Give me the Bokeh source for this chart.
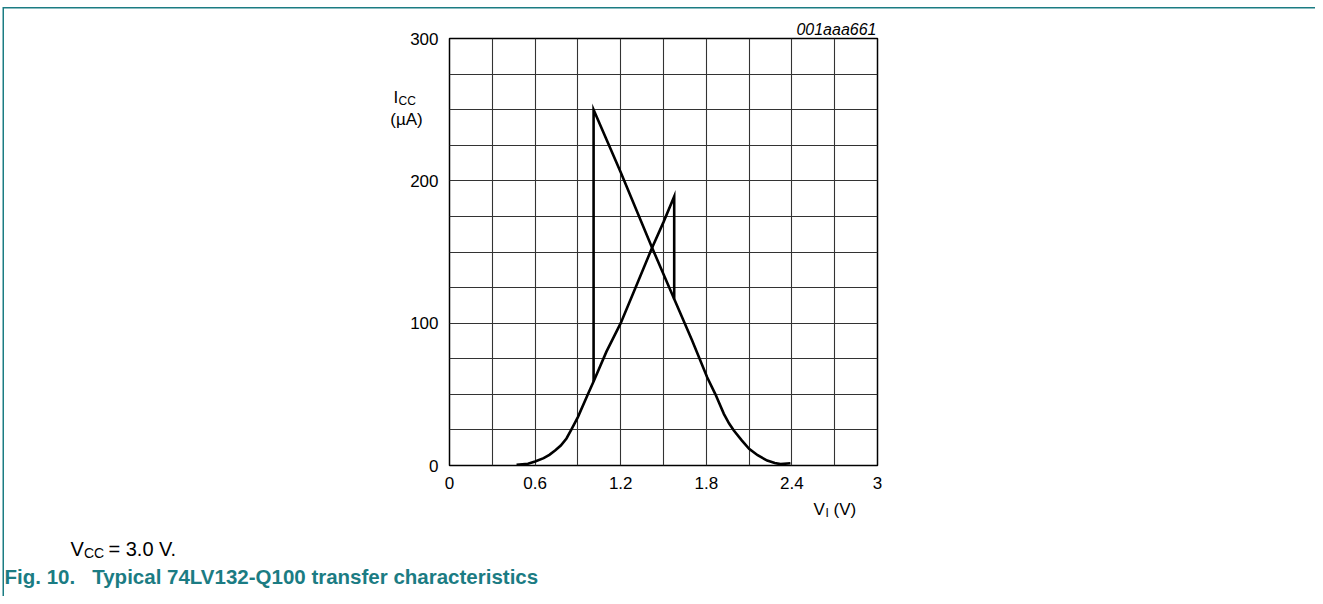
from bokeh.plotting import figure
from bokeh.models import Range1d, FixedTicker, Label, InlineStyleSheet
from bokeh.embed import file_html
from bokeh.resources import INLINE

# ---- data ----
# VI rising: bell, linear rise to the upper trip point, drop, then descending tail
v_up = [0.47, 0.55, 0.60, 0.66, 0.70, 0.74, 0.78, 0.82, 0.853, 0.90, 0.97, 1.01, 1.10, 1.20, 1.30, 1.42, 1.50, 1.575,
        1.575, 1.70, 1.806, 1.864, 1.923, 1.96, 1.993, 2.05, 2.10, 2.16, 2.227, 2.28, 2.32, 2.39]
i_up = [0.5, 1.2, 2.8, 5.2, 7.5, 10.5, 14, 19, 25, 34, 50, 59, 80, 100, 124, 153, 171, 189,
        117, 88, 62, 50, 36.3, 29.5, 24.6, 17.5, 11.7, 7.2, 3.5, 1.8, 1.0, 1.6]
# VI falling branch (distinct part): jump at lower trip point and line to the upper one
v_dn = [1.01, 1.01, 1.20, 1.42, 1.575]
i_dn = [59, 250, 206, 153, 117]

x_ticks = [0, 0.6, 1.2, 1.8, 2.4, 3]
x_tick_labels = ["0", "0.6", "1.2", "1.8", "2.4", "3"]
y_ticks = [0, 100, 200, 300]
y_tick_labels = ["0", "100", "200", "300"]
x_grid = [0, 0.3, 0.6, 0.9, 1.2, 1.5, 1.8, 2.1, 2.4, 2.7, 3.0]
y_grid = [0, 25, 50, 75, 100, 125, 150, 175, 200, 225, 250, 275, 300]

W, H = 1315, 596
FL, FR, FT, FB = 449, 877, 38, 465   # frame edges in page pixels
FONT = "Liberation Sans"
TEAL = "#1b7c83"

p = figure(width=W, height=H, x_range=Range1d(0, 3), y_range=Range1d(0, 300),
           output_backend="svg", toolbar_location=None,
           min_border_left=FL, min_border_right=W - FR, min_border_top=FT, min_border_bottom=H - FB)
p.background_fill_color = "white"
p.border_fill_color = None
p.outline_line_color = "black"
p.outline_line_width = 1.5
# document frame (thin teal rule on top and at the left), drawn as inset CSS shadows of the figure box
SHADOW = "inset 2.5px 7px 0px 0px white, inset 4px 8.5px 0px 0px " + TEAL
p.styles = {"background-color": "white", "box-shadow": SHADOW}
p.stylesheets = [InlineStyleSheet(css=":host { background-color: white; box-shadow: " + SHADOW + "; }")]

p.xaxis.ticker = FixedTicker(ticks=x_ticks)
p.xaxis.major_label_overrides = {t: s for t, s in zip(x_ticks, x_tick_labels)}
p.yaxis.ticker = FixedTicker(ticks=y_ticks)
p.yaxis.major_label_overrides = {t: s for t, s in zip(y_ticks, y_tick_labels)}
for ax in p.axis:
    ax.axis_line_color = None
    ax.major_tick_line_color = None
    ax.minor_tick_line_color = None
    ax.major_tick_out = 0
    ax.major_tick_in = 0
    ax.minor_tick_out = 0
    ax.major_label_text_font = FONT
    ax.major_label_text_font_size = "17px"
    ax.major_label_text_color = "black"
p.xaxis.major_label_standoff = 11
p.yaxis.major_label_standoff = 11

p.xgrid.ticker = FixedTicker(ticks=x_grid)
p.ygrid.ticker = FixedTicker(ticks=y_grid)
p.grid.grid_line_color = "#333333"
p.grid.grid_line_width = 1.1
p.grid.grid_line_alpha = 1

p.line(v_up, i_up, line_width=2.6, line_color="black", line_join="miter")
p.line(v_dn, i_dn, line_width=2.6, line_color="black", line_join="miter")

def dx(px):
    return (px - FL) / (FR - FL) * 3.0

def dy(py):
    return (FB - py) / (FB - FT) * 300.0

def lab(text, x, y, size, align="left", style="normal", color="black", side="left"):
    # x, y: page pixel position of the text baseline, converted to data units;
    # placed in a side panel so that it is not clipped to the plot frame
    p.add_layout(Label(x=dx(x), y=dy(y), text=text,
                       text_font=FONT, text_font_size=size, text_align=align,
                       text_baseline="alphabetic", text_font_style=style, text_color=color), side)

lab("I", 393, 97, "17px")
lab("CC", 398, 100, "12px")
lab("(µA)", 406, 119, "17px", align="center")
lab("V", 813, 509, "17px")
lab("I", 825, 512, "12px")
lab("(V)", 833, 509, "17px")
lab("001aaa661", 876, 29, "16px", align="right", style="italic")
lab("V", 70, 548, "20px")
lab("CC", 83.5, 552, "14px")
lab("= 3.0 V.", 108, 548, "20px")
lab("Fig. 10.\u00a0\u00a0 Typical 74LV132-Q100 transfer characteristics", 4, 576, "20.5px",
    style="bold", color=TEAL, side="below")

open("out.html", "w").write(file_html(p, INLINE))
